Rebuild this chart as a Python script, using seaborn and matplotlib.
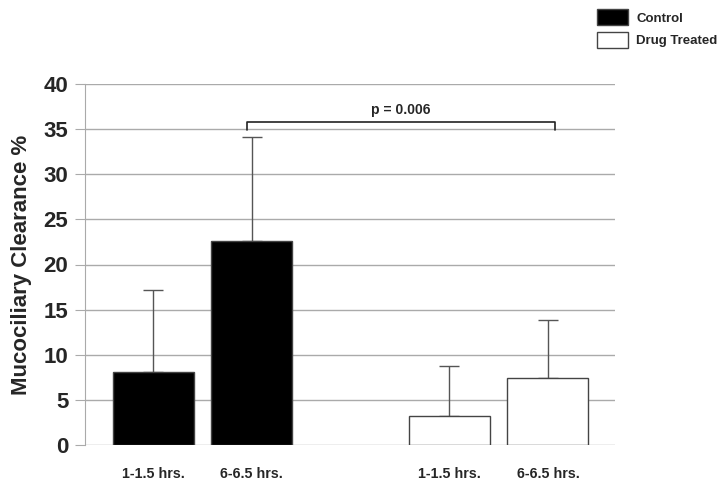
import numpy as np
import pandas as pd
import matplotlib
matplotlib.use('Agg')
import matplotlib.pyplot as plt
import matplotlib.patches as mpatches
import seaborn as sns

sns.set_style('white')
plt.rcParams['font.family'] = ['Liberation Sans', 'DejaVu Sans']
plt.rcParams['font.weight'] = 'bold'

# bar values
groups = ['Control', 'Control', 'Drug Treated', 'Drug Treated']
times = ['1-1.5 hrs.', '6-6.5 hrs.', '1-1.5 hrs.', '6-6.5 hrs.']
slot = [0, 1, 3, 4]
clearance = [8.1, 22.6, 3.2, 7.4]
err_top = [17.2, 34.1, 8.75, 13.85]
p_label = 'p = 0.006'

df = pd.DataFrame({'slot': slot, 'group': groups, 'time': times, 'clearance': clearance})
colours = {'Control': 'black', 'Drug Treated': 'white'}

fig = plt.figure(figsize=(7.18, 4.79), dpi=100)
ax = fig.add_axes([85 / 718, 34 / 479, 530 / 718, 361 / 479])

sns.barplot(data=df, x='slot', y='clearance', hue='group', palette=colours, native_scale=True,
            width=0.82, dodge=False, edgecolor='#444444', linewidth=1, legend=False, ax=ax, zorder=3)

yerr = np.array(err_top) - np.array(clearance)
ax.errorbar(slot, clearance, yerr=[np.zeros(4), yerr], fmt='none', ecolor='#555555',
            elinewidth=1, capsize=7.5, capthick=1, zorder=2)

ax.set_ylim(0, 40)
ax.set_xlim(-0.69, 4.68)
ax.set_yticks(range(0, 41, 5))
ax.yaxis.grid(True, color='#aaaaaa', linewidth=1)
ax.set_axisbelow(True)
for s in ['top', 'right', 'bottom']:
    ax.spines[s].set_visible(False)
ax.spines['left'].set_color('#aaaaaa')
ax.tick_params(axis='y', left=True, length=7, color='#aaaaaa', labelsize=16, pad=5)
ax.tick_params(axis='x', bottom=False, labelsize=10.3, pad=12)
ax.set_xticks(slot)
ax.set_xticklabels(times, fontweight='bold')
for t in ax.get_yticklabels():
    t.set_fontweight('bold')
ax.set_xlabel('')
ax.set_ylabel('Mucociliary Clearance %', fontsize=16, fontweight='bold', labelpad=8)

# significance bracket
bx0, bx1, by, bh = 0.95, 4.07, 35.8, 0.85
ax.plot([bx0, bx0, bx1, bx1], [by - bh, by, by, by - bh], color='#222222', linewidth=1.2,
        clip_on=False, zorder=4)
ax.text((bx0 + bx1) / 2, by + 0.5, p_label, ha='center', va='bottom', fontsize=10, fontweight='bold')

handles = [mpatches.Patch(facecolor=colours[g], edgecolor='#444444', linewidth=1, label=g)
           for g in ['Control', 'Drug Treated']]
fig.legend(handles=handles, loc='upper left', bbox_to_anchor=(588 / 718, 1.0), frameon=False,
           prop={'weight': 'bold', 'size': 9.5}, handlelength=2.3, handleheight=1.5,
           handletextpad=0.65, labelspacing=0.5, borderaxespad=0.3)

fig.savefig('out.png', dpi=100)
